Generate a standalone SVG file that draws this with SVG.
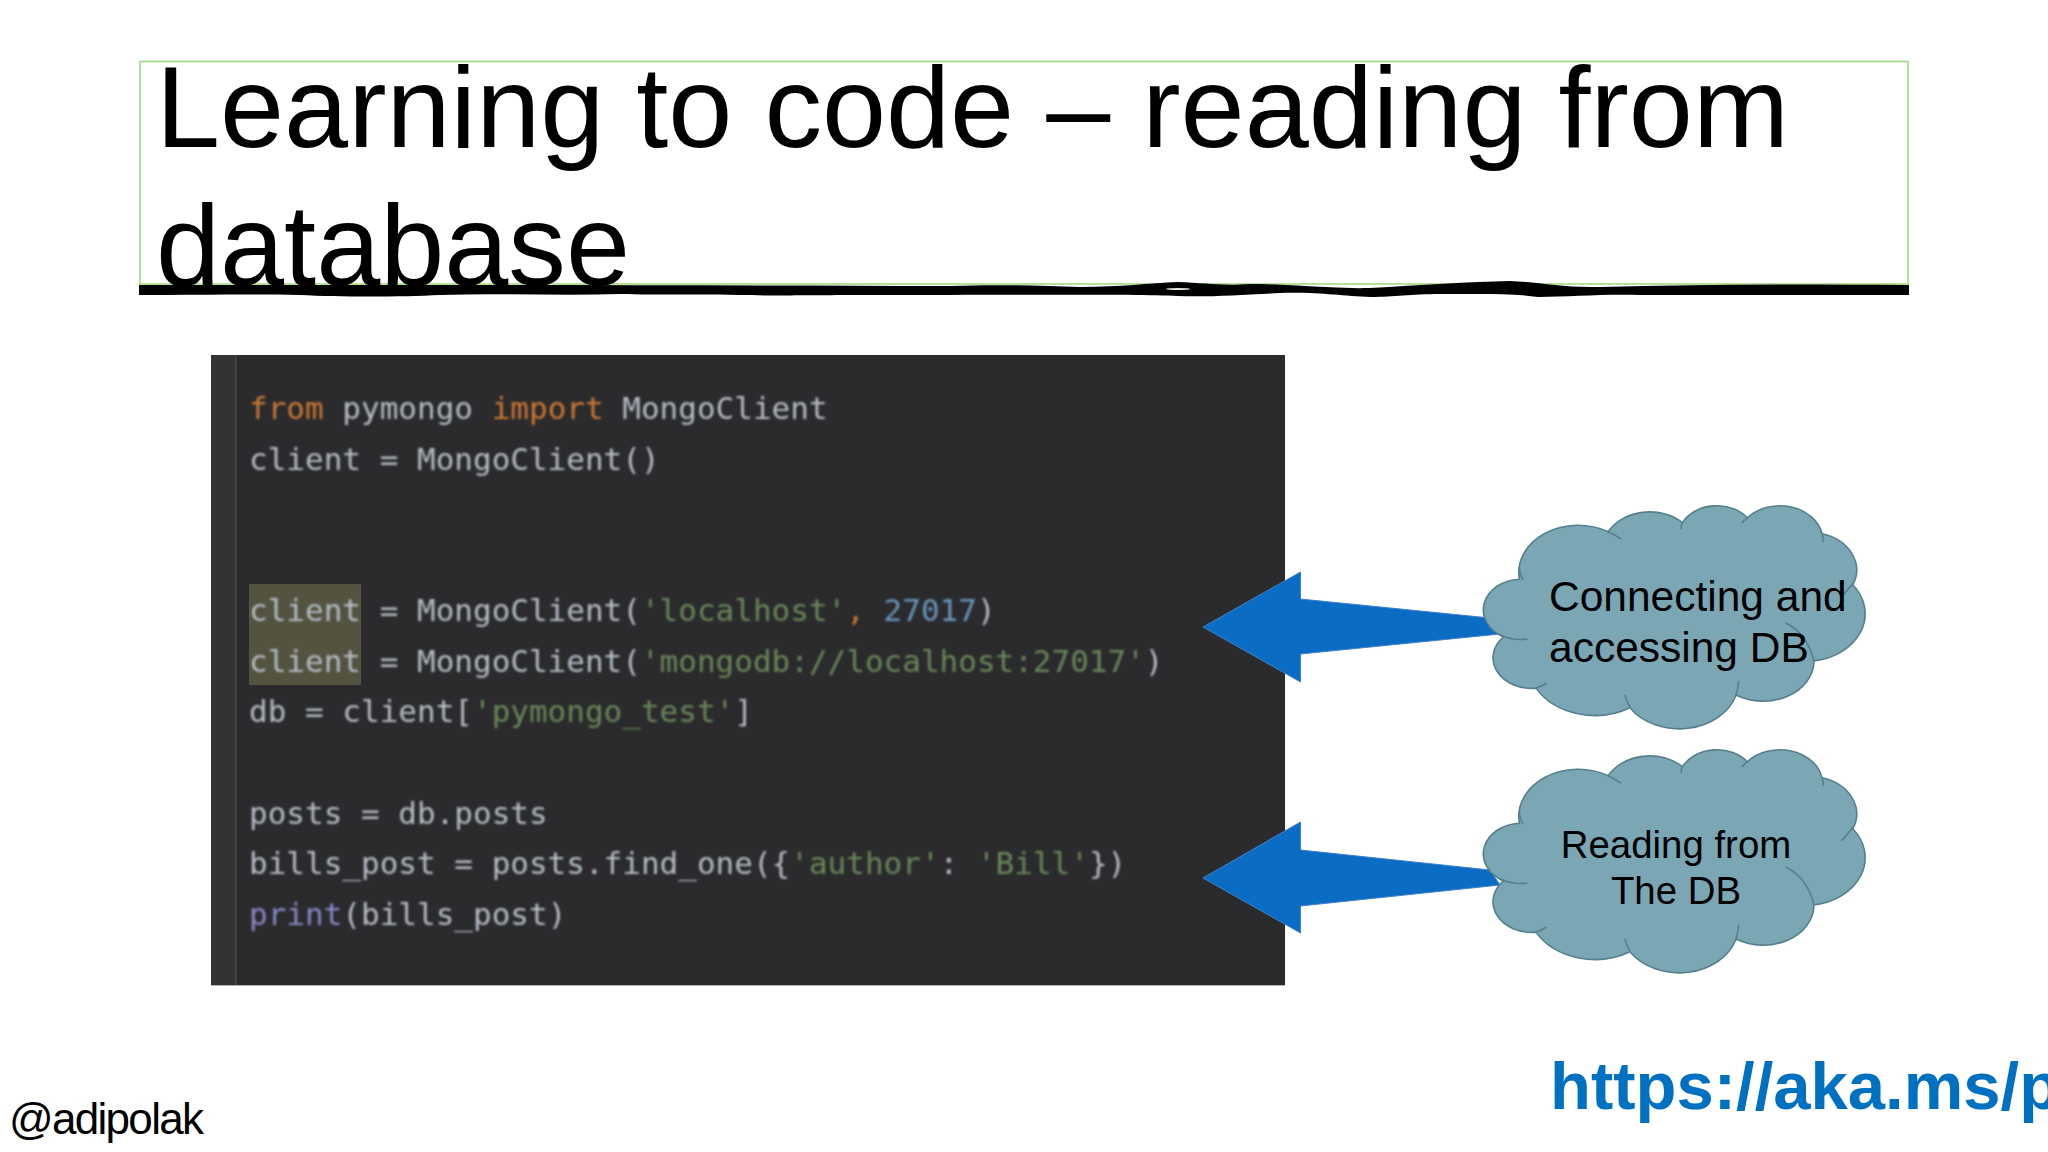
<svg xmlns="http://www.w3.org/2000/svg" width="2048" height="1152" viewBox="0 0 2048 1152">
<style>
text{font-family:"Liberation Sans",Arial,sans-serif;fill:#000}
.code text{font-family:"DejaVu Sans Mono","Liberation Mono",monospace;font-size:31px;fill:#b4bcc4;white-space:pre}
.k{fill:#cc7832}.s{fill:#6a8759}.n{fill:#6897bb}.b{fill:#8888c6}
.cloud{fill:#7ba7b5;stroke:#557f8c;stroke-width:1.6}
.detail{fill:none;stroke:#557f8c;stroke-width:1.6}
.arrow{fill:#0b6cc3;stroke:#3f80cc;stroke-width:1}
.lbl{font-size:42.5px}
.lbl2{font-size:38.4px;text-anchor:middle}
</style>
<defs>
<filter id="soft" x="-2%" y="-2%" width="104%" height="104%"><feGaussianBlur stdDeviation="0.8"/></filter>
<g id="cloudShape">
<path class="cloud" d="M34.3,74.2A59.4,47.4 0 0 1 123.2,26.8A46.9,37.5 0 0 1 197.5,17.7A38.4,30.7 0 0 1 262.4,12.8A42.7,34 0 0 1 337,28.8A46.9,37.5 0 0 1 367.8,79.8A59.6,47.6 0 0 1 329,155.9A50.9,40.6 0 0 1 251.1,190A59.4,47.6 0 0 1 144.9,202.7A67.9,54.4 0 0 1 51,183.1A38.4,30.5 0 0 1 18.5,131.9A38.2,30.7 0 0 1 34.3,74.2Z"/>
<path class="detail" d="M42.4,134Q28,136 15.6,130M61.6,178Q56,182 51,183M38,75Q35,70 34.3,62M136,34Q130,30 123,26.8M196,24Q196,20 197.5,17M257,18Q259,15 262.4,12.8M338,37Q338.5,32 337,28M356,92Q364,84 367.8,78M300.4,117.7Q322,128 329,156M253.6,176Q253,184 251,190M139.7,190Q142,197 145,202"/>
</g>
</defs>
<rect width="2048" height="1152" fill="#fff"/>
<g id="title">
<rect x="140" y="61.5" width="1768" height="222.5" fill="none" stroke="#a6d87e" stroke-width="1.6"/>
<text x="156" y="147" font-size="115.2">Learning to code – reading from</text>
<text x="156" y="285" font-size="115.2">database</text>
<path d="M139,285 C400,285 700,285 950,286 C1000,284 1040,286 1080,287 C1120,287 1150,283 1178,282 C1205,283 1220,286 1250,284 C1290,284 1330,289 1370,288 C1420,285 1470,282 1510,281 C1540,282 1560,288 1600,287 C1700,284 1800,284 1909,285 L1909,295 C1800,295 1700,295 1640,295 C1600,294 1570,297 1538,297 C1510,293 1480,294 1440,294 C1410,294 1395,297 1371,297 C1340,296 1320,292 1280,293 C1240,295 1210,297 1178,296 C1130,294 1000,295 880,295 C800,295 780,296 740,295 C680,294 660,295 620,294 C560,296 500,293 440,295 C400,297 340,297 300,295 C250,294 200,295 139,295Z" fill="#000"/>
<ellipse cx="1178" cy="289" rx="12" ry="1" fill="#dfe8da"/>
</g>
<g id="code" class="code">
<rect x="211" y="355" width="1074" height="630" fill="#2b2b2d"/>
<rect x="211" y="355" width="25" height="630" fill="#313335"/>
<rect x="235" y="355" width="1.5" height="630" fill="#47494b"/>
<rect x="211" y="985" width="1074" height="1" fill="#b5b5b5"/>
<rect x="249" y="584" width="112" height="101" fill="#545340"/>
<g filter="url(#soft)">
<text x="249" y="419"><tspan class="k">from</tspan> pymongo <tspan class="k">import</tspan> MongoClient</text>
<text x="249" y="470">client = MongoClient()</text>
<text x="249" y="621">client = MongoClient(<tspan class="s">'localhost'</tspan><tspan class="k">,</tspan> <tspan class="n">27017</tspan>)</text>
<text x="249" y="672">client = MongoClient(<tspan class="s">'mongodb://localhost:27017'</tspan>)</text>
<text x="249" y="722">db = client[<tspan class="s">'pymongo_test'</tspan>]</text>
<text x="249" y="823.5">posts = db.posts</text>
<text x="249" y="873.5">bills_post = posts.find_one({<tspan class="s">'author'</tspan>: <tspan class="s">'Bill'</tspan>})</text>
<text x="249" y="924.5"><tspan class="b">print</tspan>(bills_post)</text>
</g>
</g>
<g id="connectors">
<path class="arrow" d="M1203,627L1300.5,572V599L1490,618L1500,634L1300.5,654V682Z"/>
<path class="arrow" d="M1203,878L1300.5,822V850L1490,870L1500,885L1300.5,906V933Z"/>
</g>
<g id="cloud-connecting">
<use href="#cloudShape" x="1485" y="505"/>
<text class="lbl" x="1549" y="611">Connecting and</text>
<text class="lbl" x="1549" y="662">accessing DB</text>
</g>
<g id="cloud-reading">
<use href="#cloudShape" x="1485" y="749"/>
<text class="lbl2" x="1676" y="858">Reading from</text>
<text class="lbl2" x="1676" y="904">The DB</text>
</g>
<g id="footer">
<text x="9" y="1134" font-size="44" textLength="195" lengthAdjust="spacing">@adipolak</text>
<text x="1550" y="1109" font-size="67" font-weight="700" style="fill:#0070c0">https://aka.ms/p</text>
</g>
</svg>
